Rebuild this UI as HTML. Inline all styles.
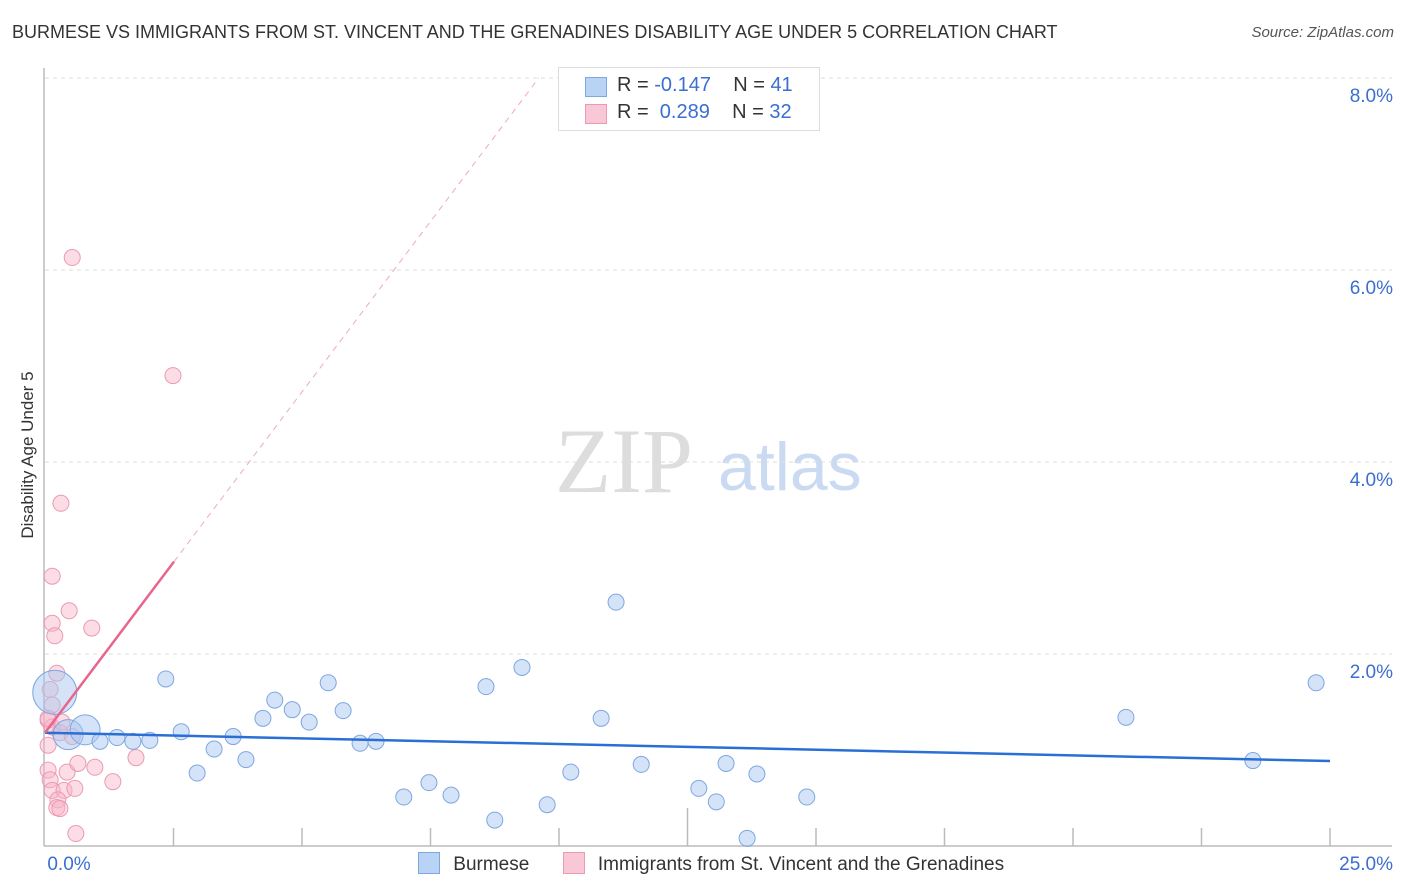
<!DOCTYPE html>
<html><head><meta charset="utf-8"><style>
body{margin:0;background:#fff;font-family:"Liberation Sans",sans-serif;}
#wrap{position:relative;width:1406px;height:892px;overflow:hidden;}
.t{position:absolute;white-space:nowrap;}
</style></head><body>
<div id="wrap">
<div class="t" style="left:12px;top:22px;font-size:18px;color:#333;">BURMESE VS IMMIGRANTS FROM ST. VINCENT AND THE GRENADINES DISABILITY AGE UNDER 5 CORRELATION CHART</div>
<div class="t" style="right:12px;top:24px;font-size:15px;color:#555;font-style:italic;">Source: ZipAtlas.com</div>
<div class="t" style="left:28px;top:455px;font-size:17px;color:#333;transform:translate(-50%,-50%) rotate(-90deg);">Disability Age Under 5</div>
<svg id="svg" width="1406" height="892" style="position:absolute;left:0;top:0;">
<text x="555" y="492" font-family="Liberation Serif" font-size="92" fill="#ddd">ZIP</text>
<text x="718" y="490" font-family="Liberation Sans" font-size="68" fill="#c9daf2">atlas</text>
</svg>
<div style="position:absolute;left:558px;top:67px;width:260px;height:62px;border:1px solid #ddd;background:#fff;">
<div style="position:absolute;left:26px;top:9px;width:20px;height:18px;background:#b9d3f5;border:1px solid #7da7e3;"></div>
<div class="t" style="left:58px;top:6px;font-size:20px;color:#333;">R = <span style="color:#3a6fd0">-0.147</span>&nbsp;&nbsp;&nbsp; N = <span style="color:#3a6fd0">41</span></div>
<div style="position:absolute;left:26px;top:36px;width:20px;height:18px;background:#f9c8d6;border:1px solid #eb9ab2;"></div>
<div class="t" style="left:58px;top:33px;font-size:20px;color:#333;">R = &nbsp;<span style="color:#3a6fd0">0.289</span>&nbsp;&nbsp;&nbsp; N = <span style="color:#3a6fd0">32</span></div>
</div>
<div style="position:absolute;left:418px;top:852px;font-size:19px;color:#333;">
<span style="display:inline-block;width:20px;height:20px;background:#b9d3f5;border:1px solid #7da7e3;vertical-align:-4px;"></span>
<span style="margin-left:8px;">Burmese</span>
<span style="display:inline-block;width:20px;height:20px;background:#f9c8d6;border:1px solid #eb9ab2;vertical-align:-4px;margin-left:28px;"></span>
<span style="margin-left:8px;">Immigrants from St. Vincent and the Grenadines</span>
</div>
</div>
<script>
const blueX=[0.19,0.45,0.78,1.07,1.40,1.71,2.04,2.35,2.65,2.96,3.29,3.66,3.91,4.24,4.47,4.81,5.14,5.51,5.80,6.13,6.44,6.98,7.47,7.90,8.58,8.75,9.28,9.77,10.23,10.82,11.11,11.60,12.72,13.06,13.25,13.66,13.85,14.82,21.03,23.50,24.73];
const blueY=[1.60,1.16,1.21,1.09,1.13,1.09,1.10,1.74,1.19,0.76,1.01,1.14,0.90,1.33,1.52,1.42,1.29,1.70,1.41,1.07,1.09,0.51,0.66,0.53,1.66,0.27,1.86,0.43,0.77,1.33,2.54,0.85,0.60,0.46,0.86,0.08,0.75,0.51,1.34,0.89,1.70];
const blueSize=[22,15,15];
const pinkX=[0.53,2.49,0.31,0.14,0.47,0.14,0.19,0.91,0.23,0.10,0.14,0.06,0.14,0.29,0.53,0.06,0.06,0.10,0.43,0.97,0.64,1.77,1.32,0.14,0.37,0.58,0.25,0.23,0.29,0.60,0.06,0.33];
const pinkY=[6.13,4.90,3.57,2.81,2.45,2.32,2.19,2.27,1.80,1.63,1.47,1.31,1.24,1.18,1.14,1.05,0.79,0.69,0.77,0.82,0.86,0.92,0.67,0.58,0.58,0.60,0.48,0.40,0.39,0.13,1.33,1.29];
const yTicks=[2,4,6,8];
const xTicks=[0,2.5,5,7.5,10,12.5,15,17.5,20,22.5,25];
const blueTrend=[1.18,0.885];
const pinkTrend=[1.18,0.71];
const X=v=>45+v/25*1285, Y=v=>846-v*96;
const svg=document.getElementById('svg'),NS='http://www.w3.org/2000/svg';
function mk(t,a){const e=document.createElementNS(NS,t);for(const k in a)e.setAttribute(k,a[k]);svg.appendChild(e);return e;}
yTicks.forEach(v=>{
 const g=mk('line',{x1:45,x2:1392,y1:Y(v),y2:Y(v),stroke:'#ddd','stroke-dasharray':'4,4'});
 
 
 const t=mk('text',{x:1393,y:Y(v)+24,'text-anchor':'end','font-size':19,fill:'#3a6fd0','font-family':'Liberation Sans'});
 t.textContent=v.toFixed(1)+'%';
 
 
});
const ax=mk('line',{x1:44,x2:1392,y1:846,y2:846,stroke:'#bbb','stroke-width':1.5});


const ay=mk('line',{x1:44,x2:44,y1:68,y2:846,stroke:'#bbb','stroke-width':1.5});


xTicks.forEach((v,i)=>{if(i==0)return;
 const l=mk('line',{x1:X(v),x2:X(v),y1:(i==5?808:828),y2:846,stroke:'#bbb','stroke-width':1.5});
 
 
});
[[0,'0.0%',69,'middle'],[25,'25.0%',1393,'end']].forEach(d=>{
 const t=mk('text',{x:d[2],y:870,'text-anchor':d[3],'font-size':19,fill:'#3a6fd0','font-family':'Liberation Sans'});
 t.textContent=d[1];
 
 
});
pinkX.forEach((x,i)=>{
 const c=mk('circle',{cx:X(x),cy:Y(pinkY[i]),r:8,fill:'rgba(248,180,200,0.45)',stroke:'#eb9ab2','stroke-width':1});
 
 
});
blueX.forEach((x,i)=>{
 const c=mk('circle',{cx:X(x),cy:Y(blueY[i]),r:blueSize[i]||8,fill:'rgba(170,200,240,0.5)',stroke:'#7da7e3','stroke-width':1});
 
 
});
const bt=mk('line',{x1:X(0),y1:Y(blueTrend[0]),x2:X(25),y2:Y(blueTrend[1]),stroke:'#2a6fd6','stroke-width':2.5});


const pe=2.51, pd=(8-pinkTrend[0])/pinkTrend[1];
const ps=mk('line',{x1:X(0),y1:Y(pinkTrend[0]),x2:X(pe),y2:Y(pinkTrend[0]+pinkTrend[1]*pe),stroke:'#e8668b','stroke-width':2.5});


const pdl=mk('line',{x1:X(pe),y1:Y(pinkTrend[0]+pinkTrend[1]*pe),x2:X(pd),y2:Y(8),stroke:'#eeaabd','stroke-width':1,'stroke-dasharray':'6,5'});


</script>
</body></html>
